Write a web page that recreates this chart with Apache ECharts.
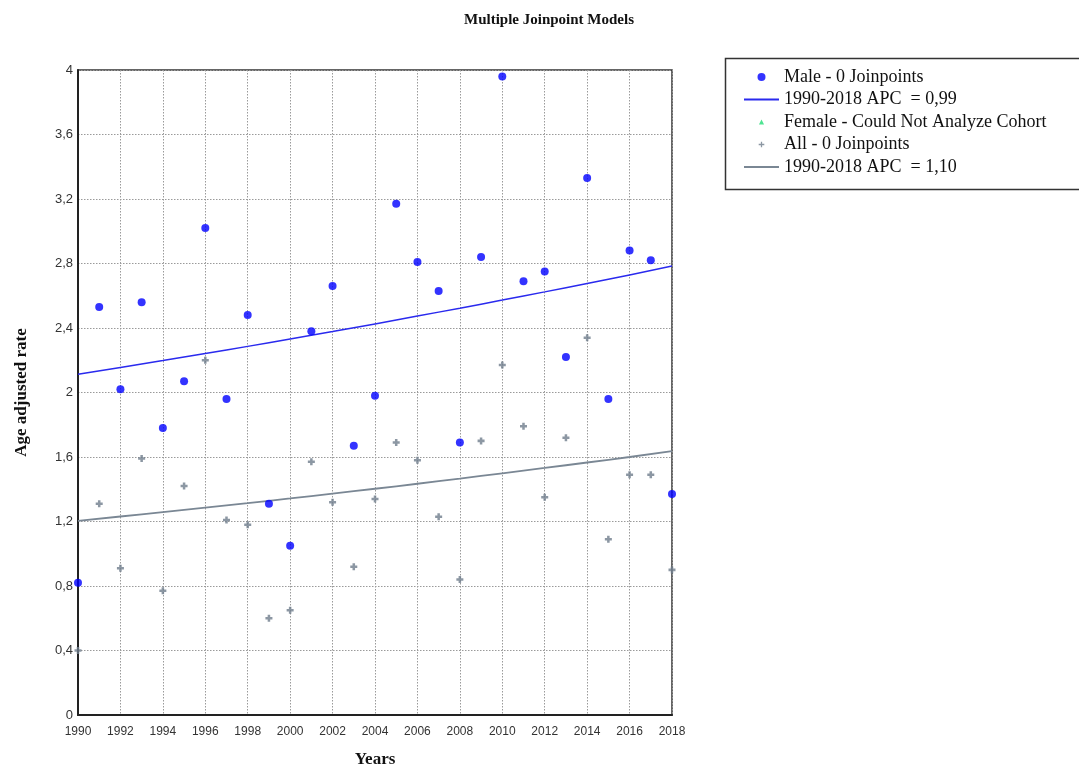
<!DOCTYPE html>
<html>
<head>
<meta charset="utf-8">
<script src="https://cdn.jsdelivr.net/npm/echarts@6/dist/echarts.min.js"></script>
<style>html,body{margin:0;padding:0;background:#fff;overflow:hidden;}#c{width:1079px;height:773px;}</style>
</head>
<body>
<div id="c"></div>
<script>
const years = [1990,1991,1992,1993,1994,1995,1996,1997,1998,1999,2000,2001,2002,2003,2004,2005,2006,2007,2008,2009,2010,2011,2012,2013,2014,2015,2016,2017,2018];
const maleRate = [0.82,2.53,2.02,2.56,1.78,2.07,3.02,1.96,2.48,1.31,1.05,2.38,2.66,1.67,1.98,3.17,2.81,2.63,1.69,2.84,3.96,2.69,2.75,2.22,3.33,1.96,2.88,2.82,1.37];
const allRate = [0.40,1.31,0.91,1.59,0.77,1.42,2.20,1.21,1.18,0.60,0.65,1.57,1.32,0.92,1.34,1.69,1.58,1.23,0.84,1.70,2.17,1.79,1.35,1.72,2.34,1.09,1.49,1.49,0.90];
const femaleRate = [];
const fitYears = [1990,1992,1994,1996,1998,2000,2002,2004,2006,2008,2010,2012,2014,2016,2018];
const maleFit = [2.113,2.155,2.198,2.242,2.286,2.332,2.378,2.425,2.474,2.523,2.573,2.624,2.676,2.729,2.784];
const allFit = [1.204,1.231,1.258,1.286,1.314,1.343,1.373,1.403,1.434,1.466,1.499,1.532,1.566,1.600,1.636];
const xTicks = ['1990','1992','1994','1996','1998','2000','2002','2004','2006','2008','2010','2012','2014','2016','2018'];
const yTicks = ['0','0,4','0,8','1,2','1,6','2','2,4','2,8','3,2','3,6','4'];
const names = ['Male - 0 Joinpoints','1990-2018 APC  = 0,99','Female - Could Not Analyze Cohort','All - 0 Joinpoints','1990-2018 APC  = 1,10'];

const zip = (xs, ys) => ys.map((v, i) => [xs[i], v]);
const serif = '"Liberation Serif", "DejaVu Serif", serif';
const sans = '"Liberation Sans", Arial, sans-serif';
const plus = 'path://M1.6,0 L3.4,0 L3.4,1.6 L5,1.6 L5,3.4 L3.4,3.4 L3.4,5 L1.6,5 L1.6,3.4 L0,3.4 L0,1.6 L1.6,1.6 Z';
const legendTri = 'path://M0,0 L0.01,0 L0,0.01 Z M10,10 L9.99,10 L10,9.99 Z M5,1.8 L8.2,8.2 L1.8,8.2 Z';
const legendPlus = 'path://M0,0 L0.01,0 L0,0.01 Z M10,10 L9.99,10 L10,9.99 Z M4.2,1.5 L5.8,1.5 L5.8,4.2 L8.5,4.2 L8.5,5.8 L5.8,5.8 L5.8,8.5 L4.2,8.5 L4.2,5.8 L1.5,5.8 L1.5,4.2 L4.2,4.2 Z';

const chart = echarts.init(document.getElementById('c'));
chart.setOption({
  animation: false,
  backgroundColor: '#fff',
  title: {
    text: 'Multiple Joinpoint Models',
    left: 544, top: 8, textAlign: 'center',
    textStyle: { fontFamily: serif, fontWeight: 'bold', fontSize: 15, color: '#111' }
  },
  grid: { left: 78, width: 594, top: 70, height: 648, show: true, borderColor: '#333', borderWidth: 1.5, backgroundColor: 'transparent' },
  xAxis: {
    type: 'value', min: 1990, max: 2018, interval: 2,
    name: 'Years', nameLocation: 'middle', nameGap: 36,
    nameTextStyle: { fontFamily: serif, fontWeight: 'bold', fontSize: 17, color: '#111', verticalAlign: 'top' },
    axisLine: { show: true, lineStyle: { color: '#222', width: 2 } },
    axisTick: { show: false },
    axisLabel: { margin: 11, fontFamily: sans, fontSize: 12, color: '#333',
      formatter: v => xTicks[Math.round((v - 1990) / 2)] },
    splitLine: { show: true, lineStyle: { color: '#9a9a9a', type: [1.5, 1.5], width: 1 } }
  },
  yAxis: {
    type: 'value', min: 0, max: 4, interval: 0.4,
    name: 'Age adjusted rate', nameLocation: 'middle', nameGap: 48,
    nameTextStyle: { fontFamily: serif, fontWeight: 'bold', fontSize: 17, color: '#111' },
    axisLine: { show: true, lineStyle: { color: '#222', width: 2 } },
    axisTick: { show: false },
    axisLabel: { margin: 5, fontFamily: sans, fontSize: 13, color: '#333',
      formatter: v => yTicks[Math.round(v / 0.4)] },
    splitLine: { show: true, lineStyle: { color: '#9a9a9a', type: [1.5, 1.5], width: 1 } }
  },
  legend: {
    orient: 'vertical', left: 738, top: 63,
    itemWidth: 35, itemHeight: 8, itemGap: 4.5,
    symbolKeepAspect: true,
    data: [
      { name: names[0] },
      { name: names[1], itemStyle: { opacity: 0 } },
      { name: names[2], icon: legendTri },
      { name: names[3], icon: legendPlus },
      { name: names[4], itemStyle: { opacity: 0 } }
    ],
    textStyle: { fontFamily: serif, fontSize: 18, color: '#111', lineHeight: 18 }
  },
  graphic: [
    { type: 'rect', left: 723, top: 56, shape: { width: 420, height: 131 }, style: { fill: 'none', stroke: '#333', lineWidth: 1.5 }, silent: true }
  ],
  series: [
    { name: names[0], type: 'scatter', data: zip(years, maleRate), symbol: 'circle', symbolSize: 8, itemStyle: { color: '#0000ff' }, z: 5 },
    { name: names[1], type: 'line', data: zip(fitYears, maleFit), smooth: true, showSymbol: false, symbol: 'none', lineStyle: { color: '#2a2aee', width: 1.5 }, itemStyle: { color: '#2a2aee' } },
    { name: names[2], type: 'scatter', data: femaleRate, symbol: 'triangle', symbolSize: 5, itemStyle: { color: '#22dd77' } },
    { name: names[3], type: 'scatter', data: zip(years, allRate), symbol: plus, symbolSize: 7, itemStyle: { color: '#6f7d8c' }, z: 4 },
    { name: names[4], type: 'line', data: zip(fitYears, allFit), smooth: true, showSymbol: false, symbol: 'none', lineStyle: { color: '#7a8794', width: 1.8 }, itemStyle: { color: '#7a8794' } }
  ]
});
</script>
</body>
</html>
